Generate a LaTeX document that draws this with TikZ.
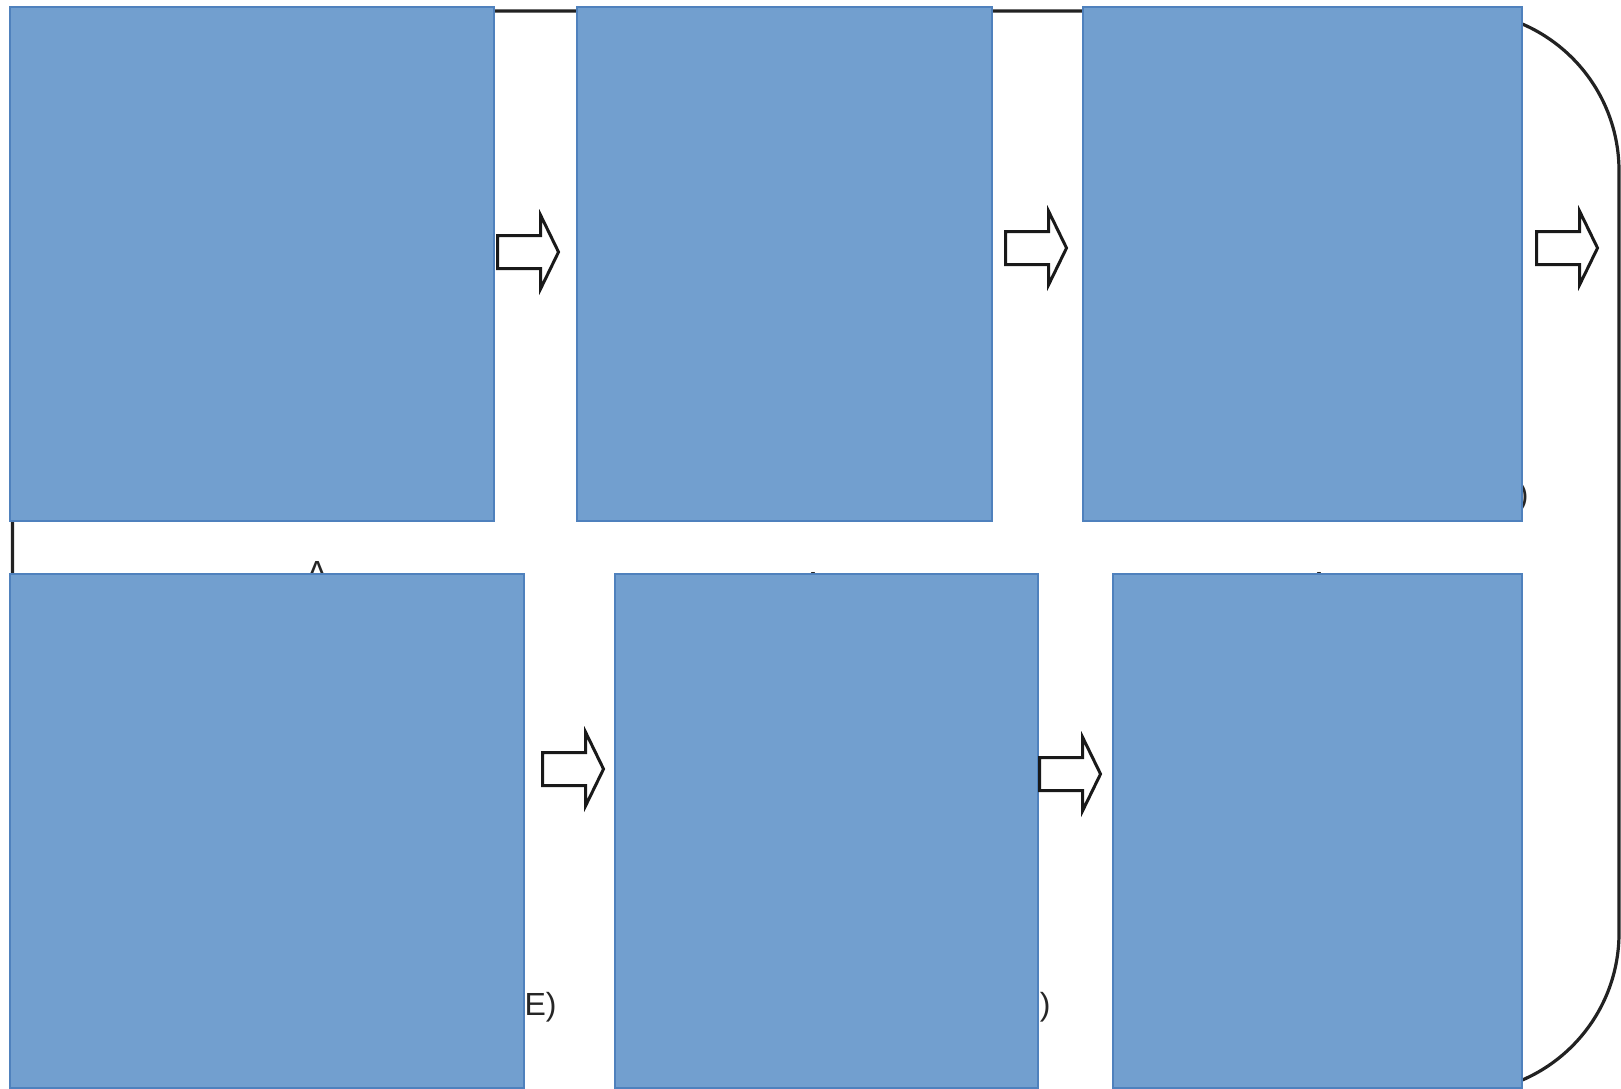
\documentclass[tikz,border=0pt]{standalone}
\usepackage{fontspec}
\setmainfont{Liberation Sans}
\usepackage{tikz}
\usetikzlibrary{shapes.arrows}
\definecolor{panelblue}{RGB}{114, 159, 207}
\definecolor{paneledge}{RGB}{79, 129, 189}
\definecolor{loopgray}{RGB}{34, 34, 34}

\begin{document}
\begin{tikzpicture}[x=0.5pt, y=-0.5pt,
    panel/.style={rectangle, draw=paneledge, line width=0.6pt, fill=panelblue,
        minimum height=257pt, inner sep=0pt, outer sep=0pt, anchor=north west},
    flowarrow/.style={single arrow, draw=black!90, line width=1.5pt, fill=white,
        minimum height=30.5pt, inner xsep=0pt, inner ysep=7.5pt,
        single arrow head extend=10pt, single arrow tip angle=128},
    tag/.style={inner sep=0pt, font=\fontsize{16}{19}\selectfont, text=black!85}]
    \useasboundingbox (0,0) rectangle (1621,1088);

    % Loop frame behind the panels
    \draw[loopgray, line width=1.6pt, rounded corners=80pt] (12.5,11) rectangle (1619,1093);

    % Labels (mostly hidden by the panels)
    \node[tag, anchor=base] (ta) at (317,583) {A};
    \node[tag, anchor=base] (tb) at (813,594) {A};
    \node[tag, anchor=base] (tc) at (1319,594) {A};
    \node[tag, anchor=base east] (lc) at (1529,505) {(C)};
    \node[tag, anchor=base east] (le) at (557,1015) {(E)};
    \node[tag, anchor=base east] (lf) at (1051,1015) {(F)};

    % Panels
    \foreach \n/\x/\y/\w in {p1/10/7/242pt, p2/577/7/207.5pt, p3/1083/7/219.5pt,
                             p4/10/574/257pt, p5/615/574/211.5pt, p6/1113/574/204.5pt} {
        \node[panel, minimum width=\w] (\n) at (\x,\y) {};
    }

    % Flow arrows
    \foreach \n/\x/\y in {a1/524/252, a2/1032/248, a3/1563/248, a4/569/769, a5/1066/774} {
        \node[flowarrow] (\n) at (\x,\y) {};
    }
\end{tikzpicture}
\end{document}
